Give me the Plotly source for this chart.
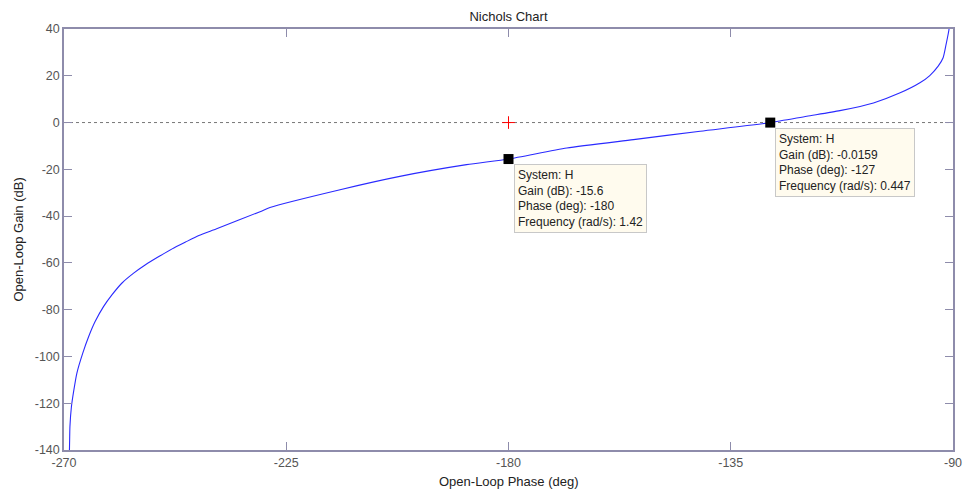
import plotly.graph_objects as go

# Nichols curve
phase_deg = [-269.0, -268.9, -268.8, -268.5, -268.0, -267.4, -266.2, -265.0, -263.7,
             -262.0, -260.3, -258.3, -255.9, -253.5, -250.8, -248.1, -245.4, -242.7,
             -239.1, -230.3, -228.3, -214.1, -202.0, -188.5, -180.0, -168.2, -154.7,
             -141.2, -127.0, -119.6, -112.9, -106.1, -100.7, -96.7, -94.7, -93.0,
             -92.0, -91.4, -90.8, -90.7]
gain_db = [-143.0, -140.0, -130.0, -121.5, -114.3, -107.2, -98.6, -91.5, -85.1,
           -78.7, -73.7, -68.7, -64.4, -60.8, -57.3, -54.0, -51.1, -48.3,
           -45.4, -38.1, -36.3, -28.7, -23.0, -18.0, -15.6, -10.9, -7.3,
           -3.7, -0.0159, 2.7, 5.1, 8.4, 12.7, 17.0, 20.1, 24.1,
           27.7, 33.4, 40.0, 44.0]

# data tips
tip_phase = [-180, -127]
tip_gain = [-15.6, -0.0159]
tip_freq = ["1.42", "0.447"]
tip_gain_txt = ["-15.6", "-0.0159"]
tip_phase_txt = ["-180", "-127"]

# critical point
crit_phase = [-180]
crit_gain = [0]

x_ticks = [-270, -225, -180, -135, -90]
x_tick_text = ["-270", "-225", "-180", "-135", "-90"]
y_ticks = [-140, -120, -100, -80, -60, -40, -20, 0, 20, 40]
y_tick_text = ["-140", "-120", "-100", "-80", "-60", "-40", "-20", "0", "20", "40"]

axis_col = "#8e8cab"
font_fam = "Liberation Sans, Arial, sans-serif"

fig = go.Figure()
fig.add_trace(go.Scatter(x=phase_deg, y=gain_db, mode="lines",
                         line=dict(color="#2a2aff", width=1.1, shape="spline", smoothing=0.6),
                         hoverinfo="skip"))
fig.add_trace(go.Scatter(x=crit_phase, y=crit_gain, mode="markers",
                         marker=dict(symbol="cross-thin", size=9,
                                     line=dict(color="red", width=1)), hoverinfo="skip"))
fig.add_trace(go.Scatter(x=tip_phase, y=tip_gain, mode="markers",
                         marker=dict(symbol="square", size=10, color="black"), hoverinfo="skip"))

fig.add_shape(type="line", xref="paper", x0=0, x1=1, yref="y", y0=0, y1=0,
              line=dict(color="#777777", width=1, dash="dot"), layer="below")

for px, gy, gt, pt, fr in zip(tip_phase, tip_gain, tip_gain_txt, tip_phase_txt, tip_freq):
    txt = ("System: H<br>Gain (dB): " + gt + "<br>Phase (deg): " + pt +
           "<br>Frequency (rad/s): " + fr)
    fig.add_annotation(x=px, y=gy, xref="x", yref="y", text=txt, showarrow=False,
                       xanchor="left", yanchor="top", xshift=5, yshift=-5, align="left",
                       bgcolor="#fffbee", bordercolor="#c8c8c8", borderwidth=1, borderpad=3,
                       font=dict(family=font_fam, size=12, color="#222222"))

fig.add_annotation(text="Open-Loop Phase (deg)", xref="paper", yref="paper", x=0.5, y=-0.076,
                   showarrow=False, xanchor="center", yanchor="middle",
                   font=dict(family=font_fam, size=13, color="#222222"))
fig.add_annotation(text="Open-Loop Gain (dB)", xref="paper", yref="paper", x=-0.0517, y=0.5,
                   showarrow=False, textangle=-90, xanchor="center", yanchor="middle",
                   font=dict(family=font_fam, size=13, color="#222222"))

axis_common = dict(showgrid=False, zeroline=False, showline=True, linecolor=axis_col,
                   linewidth=1.5, mirror="ticks", ticks="inside", ticklen=8, tickcolor=axis_col,
                   tickwidth=1.2, automargin=False, ticklabeloverflow="allow",
                   tickfont=dict(family=font_fam, size=12.5, color="#555555"))

fig.update_layout(
    width=963, height=492,
    margin=dict(l=64, r=10, t=29, b=42),
    paper_bgcolor="white", plot_bgcolor="white",
    showlegend=False,
    title=dict(text="Nichols Chart", x=0.5, xref="paper", y=1 - 16 / 492, yref="container",
               xanchor="center", yanchor="middle",
               font=dict(family=font_fam, size=13, color="#222222")),
    xaxis=dict(range=[-270, -90], tickvals=x_ticks, ticktext=x_tick_text, **axis_common),
    yaxis=dict(range=[-140, 40], tickvals=y_ticks, ticktext=y_tick_text, **axis_common),
)

fig.write_html("out.html")
